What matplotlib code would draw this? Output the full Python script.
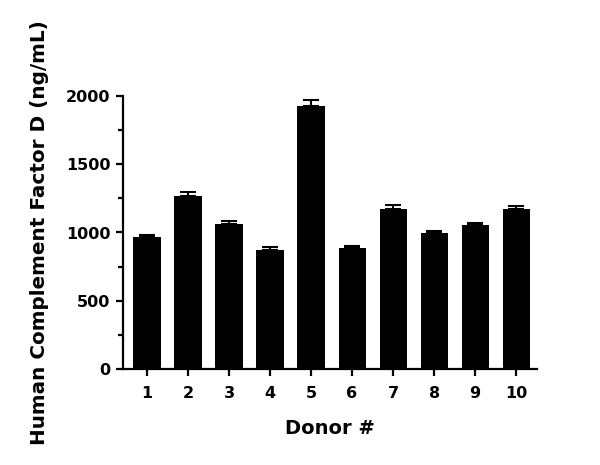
import numpy as np
import matplotlib
matplotlib.use('Agg')
import matplotlib.pyplot as plt
from matplotlib.ticker import MultipleLocator

donors = ['1', '2', '3', '4', '5', '6', '7', '8', '9', '10']
means = [967, 1264, 1064, 874, 1924, 886, 1174, 999, 1052, 1172]
errs = [17, 33, 20, 20, 47, 12, 25, 14, 15, 19]

plt.rcParams['font.family'] = ['DejaVu Sans']
plt.rcParams['font.weight'] = 'bold'

fig = plt.figure(figsize=(6, 4.65), dpi=100)
ax = fig.add_axes([0.205, 0.206, 0.69, 0.588])

x = np.arange(1, len(donors) + 1)
ax.bar(x, means, width=0.66, color='black')
ax.errorbar(x, means, yerr=[np.zeros(len(errs)), errs], fmt='none',
            ecolor='black', elinewidth=1.5, capsize=5.5, capthick=1.5)

ax.set_xlim(0.415, 10.51)
ax.set_ylim(0, 2000)
ax.set_xticks(x)
ax.set_xticklabels(donors)
ax.yaxis.set_major_locator(MultipleLocator(500))
ax.yaxis.set_minor_locator(MultipleLocator(250))

for s in ['top', 'right']:
    ax.spines[s].set_visible(False)
for s in ['left', 'bottom']:
    ax.spines[s].set_linewidth(1.6)

ax.tick_params(axis='both', which='major', length=5, width=1.6, labelsize=11.5, pad=4)
ax.tick_params(axis='x', which='major', pad=7)
ax.tick_params(axis='y', which='minor', length=3.5, width=1.6)
for lbl in ax.get_xticklabels() + ax.get_yticklabels():
    lbl.set_fontweight('bold')

ax.set_xlabel('Donor #', fontsize=14, fontweight='bold', labelpad=13)
ax.set_ylabel('Human Complement Factor D (ng/mL)', fontsize=14.4, fontweight='bold', labelpad=12)

fig.savefig('out.png', dpi=100)
